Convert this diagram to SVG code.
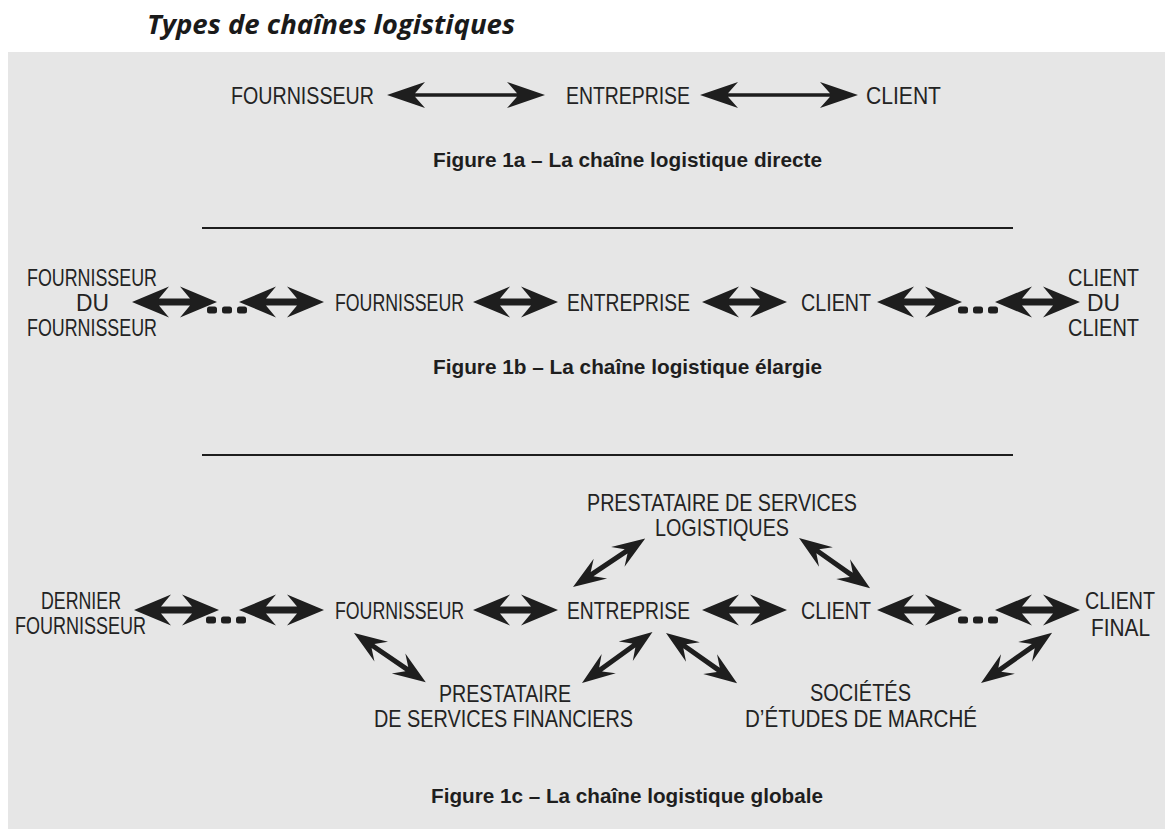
<svg xmlns="http://www.w3.org/2000/svg" xmlns:xlink="http://www.w3.org/1999/xlink" width="1167" height="829" viewBox="0 0 1167 829">
<style>
  .lbl { font-family: "Liberation Sans", Arial, sans-serif; font-size: 24.5px; fill: #232323; }
  .cap { font-family: "Liberation Sans", Arial, sans-serif; font-size: 20.5px; font-weight: bold; fill: #1e1e1e; }
  .title { font-family: "Open Sans", "Liberation Sans", sans-serif; font-size: 27px; font-style: italic; font-weight: 700; fill: #1a1a1a; }
  .arr { fill: #1e1e1e; }
  .sep { stroke: #1e1e1e; stroke-width: 2; }
  .end { text-anchor: end; }
</style>
<defs>
  <path id="longArrow" class="arr" d="M0,0 L38,-13 L28,-1.8 L130,-1.8 L120,-13 L158,0 L120,13 L130,1.8 L28,1.8 L38,13 Z"/>
  <path id="shortArrow" class="arr" d="M0,0 L37,-15.5 L27,-3.5 L58,-3.5 L48,-15.5 L85,0 L48,15.5 L58,3.5 L27,3.5 L37,15.5 Z"/>
  <path id="diagArrow" class="arr" d="M0,0 L33,-12 L23,-2.5 L64,-2.5 L54,-12 L87,0 L54,12 L64,2.5 L23,2.5 L33,12 Z"/>
  <g id="dots" class="arr">
    <rect x="0" y="-3.5" width="10" height="7" rx="2.5"/>
    <rect x="15" y="-3.5" width="10" height="7" rx="2.5"/>
    <rect x="30" y="-3.5" width="10" height="7" rx="2.5"/>
  </g>
</defs>

<text class="title" x="147" y="34" textLength="368" lengthAdjust="spacingAndGlyphs">Types de chaînes logistiques</text>
<rect x="8" y="52" width="1157" height="777" fill="#e6e6e6"/>

<!-- Figure 1a -->
<g id="a-fournisseur"><text class="lbl" x="231" y="104" textLength="143" lengthAdjust="spacingAndGlyphs">FOURNISSEUR</text></g>
<g id="a-entreprise"><text class="lbl" x="566" y="104" textLength="124" lengthAdjust="spacingAndGlyphs">ENTREPRISE</text></g>
<g id="a-client"><text class="lbl" x="866" y="104" textLength="75" lengthAdjust="spacingAndGlyphs">CLIENT</text></g>
<text class="cap" x="433" y="167" textLength="389" lengthAdjust="spacingAndGlyphs">Figure 1a – La chaîne logistique directe</text>

<line class="sep" x1="202" y1="228" x2="1013" y2="228"/>

<!-- Figure 1b -->
<g id="b-fournisseur-du-fournisseur">
  <text class="lbl" x="27" y="286" textLength="130" lengthAdjust="spacingAndGlyphs">FOURNISSEUR</text>
  <text class="lbl" x="76" y="311" textLength="33" lengthAdjust="spacingAndGlyphs">DU</text>
  <text class="lbl" x="27" y="336" textLength="130" lengthAdjust="spacingAndGlyphs">FOURNISSEUR</text>
</g>
<g id="b-fournisseur"><text class="lbl" x="335" y="311" textLength="129" lengthAdjust="spacingAndGlyphs">FOURNISSEUR</text></g>
<g id="b-entreprise"><text class="lbl" x="567" y="311" textLength="123" lengthAdjust="spacingAndGlyphs">ENTREPRISE</text></g>
<g id="b-client"><text class="lbl" x="801" y="311" textLength="70" lengthAdjust="spacingAndGlyphs">CLIENT</text></g>
<g id="b-client-du-client">
  <text class="lbl end" x="1139" y="286" textLength="71" lengthAdjust="spacingAndGlyphs">CLIENT</text>
  <text class="lbl end" x="1120" y="311" textLength="33" lengthAdjust="spacingAndGlyphs">DU</text>
  <text class="lbl end" x="1139" y="336" textLength="71" lengthAdjust="spacingAndGlyphs">CLIENT</text>
</g>
<text class="cap" x="433" y="374" textLength="389" lengthAdjust="spacingAndGlyphs">Figure 1b – La chaîne logistique élargie</text>

<line class="sep" x1="202" y1="455" x2="1013" y2="455"/>

<!-- Figure 1c -->
<g id="c-logistique">
  <text class="lbl" x="587" y="511" textLength="270" lengthAdjust="spacingAndGlyphs">PRESTATAIRE DE SERVICES</text>
  <text class="lbl" x="655" y="536" textLength="134" lengthAdjust="spacingAndGlyphs">LOGISTIQUES</text>
</g>
<g id="c-dernier-fournisseur">
  <text class="lbl" x="41" y="609" textLength="80" lengthAdjust="spacingAndGlyphs">DERNIER</text>
  <text class="lbl" x="15" y="634" textLength="131" lengthAdjust="spacingAndGlyphs">FOURNISSEUR</text>
</g>
<g id="c-fournisseur"><text class="lbl" x="335" y="619" textLength="129" lengthAdjust="spacingAndGlyphs">FOURNISSEUR</text></g>
<g id="c-entreprise"><text class="lbl" x="567" y="619" textLength="123" lengthAdjust="spacingAndGlyphs">ENTREPRISE</text></g>
<g id="c-client"><text class="lbl" x="801" y="619" textLength="70" lengthAdjust="spacingAndGlyphs">CLIENT</text></g>
<g id="c-client-final">
  <text class="lbl" transform="translate(1085,609) scale(0.804,1)">CLIENT</text>
  <text class="lbl" transform="translate(1091,636) scale(0.85,1)">FINAL</text>
</g>
<g id="c-financier">
  <text class="lbl" x="439" y="702" textLength="132" lengthAdjust="spacingAndGlyphs">PRESTATAIRE</text>
  <text class="lbl" x="374" y="727" textLength="259" lengthAdjust="spacingAndGlyphs">DE SERVICES FINANCIERS</text>
</g>
<g id="c-societes">
  <text class="lbl" x="810" y="701" textLength="101" lengthAdjust="spacingAndGlyphs">SOCIÉTÉS</text>
  <text class="lbl" x="745" y="727" textLength="232" lengthAdjust="spacingAndGlyphs">D’ÉTUDES DE MARCHÉ</text>
</g>
<text class="cap" x="431" y="803" textLength="392" lengthAdjust="spacingAndGlyphs">Figure 1c – La chaîne logistique globale</text>

<!-- connectors -->
<g id="connectors">
  <use xlink:href="#longArrow" href="#longArrow" transform="translate(387,95)"/>
  <use xlink:href="#longArrow" href="#longArrow" transform="translate(700,95)"/>

  <use xlink:href="#shortArrow" href="#shortArrow" transform="translate(132,302)"/>
  <use xlink:href="#dots" href="#dots" transform="translate(207,310)"/>
  <use xlink:href="#shortArrow" href="#shortArrow" transform="translate(239,302)"/>
  <use xlink:href="#shortArrow" href="#shortArrow" transform="translate(473,302)"/>
  <use xlink:href="#shortArrow" href="#shortArrow" transform="translate(702,302)"/>
  <use xlink:href="#shortArrow" href="#shortArrow" transform="translate(877,302)"/>
  <use xlink:href="#dots" href="#dots" transform="translate(958,310)"/>
  <use xlink:href="#shortArrow" href="#shortArrow" transform="translate(995,302)"/>

  <use xlink:href="#shortArrow" href="#shortArrow" transform="translate(134,610)"/>
  <use xlink:href="#dots" href="#dots" transform="translate(206,620)"/>
  <use xlink:href="#shortArrow" href="#shortArrow" transform="translate(239,610)"/>
  <use xlink:href="#shortArrow" href="#shortArrow" transform="translate(473,610)"/>
  <use xlink:href="#shortArrow" href="#shortArrow" transform="translate(702,610)"/>
  <use xlink:href="#shortArrow" href="#shortArrow" transform="translate(877,610)"/>
  <use xlink:href="#dots" href="#dots" transform="translate(958,620)"/>
  <use xlink:href="#shortArrow" href="#shortArrow" transform="translate(995,610)"/>

  <use xlink:href="#diagArrow" href="#diagArrow" transform="translate(354,633) rotate(34.4)"/>
  <use xlink:href="#diagArrow" href="#diagArrow" transform="translate(573,587) rotate(-33.9)"/>
  <use xlink:href="#diagArrow" href="#diagArrow" transform="translate(582,683) rotate(-35.9)"/>
  <use xlink:href="#diagArrow" href="#diagArrow" transform="translate(799,538) rotate(35.2)"/>
  <use xlink:href="#diagArrow" href="#diagArrow" transform="translate(666,633) rotate(35.2)"/>
  <use xlink:href="#diagArrow" href="#diagArrow" transform="translate(981,683) rotate(-35.2)"/>
</g>
</svg>
